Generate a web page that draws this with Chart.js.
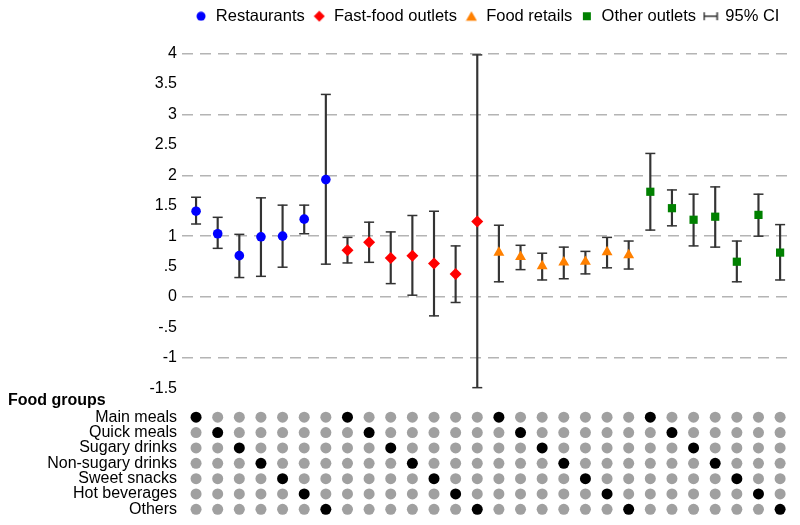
<!DOCTYPE html>
<html>
<head>
<meta charset="utf-8">
<script src="https://cdn.jsdelivr.net/npm/chart.js@4.4.1/dist/chart.umd.min.js"></script>
<style>
  html, body { margin: 0; padding: 0; background: #fff; }
  #wrap { position: relative; width: 800px; height: 525px; }
  #fg { position: absolute; left: 8px; top: 391px; font: bold 16px Arial, "Liberation Sans", sans-serif; color: #000; }
</style>
</head>
<body>
<div id="wrap">
  <canvas id="c" width="800" height="525"></canvas>
  <div id="fg">Food groups</div>
</div>
<script>
// ---- Data ----
const seriesNames = ['Restaurants', 'Fast-food outlets', 'Food retails', 'Other outlets'];

const restaurantsEst = [1.41, 1.04, 0.68, 0.99, 1.00, 1.28, 1.93];
const restaurantsLo  = [1.20, 0.80, 0.32, 0.34, 0.49, 1.04, 0.54];
const restaurantsHi  = [1.64, 1.31, 1.03, 1.63, 1.51, 1.51, 3.33];

const fastFoodEst = [0.77, 0.90, 0.64, 0.68, 0.55, 0.38, 1.24];
const fastFoodLo  = [0.56, 0.57, 0.22, 0.03, -0.31, -0.09, -1.49];
const fastFoodHi  = [0.98, 1.23, 1.07, 1.34, 1.41, 0.84, 3.98];

const foodRetailsEst = [0.73, 0.66, 0.51, 0.57, 0.58, 0.74, 0.69];
const foodRetailsLo  = [0.25, 0.45, 0.28, 0.30, 0.38, 0.48, 0.46];
const foodRetailsHi  = [1.18, 0.85, 0.72, 0.82, 0.75, 0.98, 0.92];

const otherEst = [1.73, 1.46, 1.27, 1.32, 0.58, 1.35, 0.73];
const otherLo  = [1.10, 1.17, 0.84, 0.82, 0.25, 1.00, 0.28];
const otherHi  = [2.36, 1.76, 1.69, 1.81, 0.92, 1.69, 1.19];

const foodGroups = ['Main meals', 'Quick meals', 'Sugary drinks', 'Non-sugary drinks', 'Sweet snacks', 'Hot beverages', 'Others'];
// food group highlighted in each of the 28 columns (index into foodGroups)
const columnGroup = [0,1,2,3,4,5,6, 0,1,2,3,4,5,6, 0,1,2,3,4,5,6, 0,1,2,3,4,5,6];

const yTickValues = [-1.5, -1, -0.5, 0, 0.5, 1, 1.5, 2, 2.5, 3, 3.5, 4];

// ---- Build datasets ----
const FONT = 'Arial, "Liberation Sans", sans-serif';
const colors = ['#0000ff', '#ff0000', '#ff8000', '#008000'];
const styles = ['circle', 'rectRot', 'triangle', 'rect'];
const radii = [4.8, 6, 6.3, 5.8];
const est = [restaurantsEst, fastFoodEst, foodRetailsEst, otherEst];
const lo = [restaurantsLo, fastFoodLo, foodRetailsLo, otherLo];
const hi = [restaurantsHi, fastFoodHi, foodRetailsHi, otherHi];

let pos = 1;
const markerSets = [], capPts = [], whisk = [];
est.forEach((arr, s) => {
  const pts = [];
  arr.forEach((v, i) => {
    const x = pos + i;
    pts.push({x: x, y: v});
    capPts.push({x: x, y: lo[s][i]}, {x: x, y: hi[s][i]});
    whisk.push({x: x, y: [lo[s][i], hi[s][i]]});
  });
  markerSets.push({
    type: 'scatter', label: seriesNames[s], data: pts, yAxisID: 'y',
    pointStyle: styles[s], pointRadius: radii[s], pointHoverRadius: radii[s],
    backgroundColor: colors[s], borderColor: colors[s], borderWidth: 0, clip: false
  });
  pos += arr.length;
});

const grayPts = [], blackPts = [];
columnGroup.forEach((g, i) => {
  foodGroups.forEach((name, r) => {
    (r === g ? blackPts : grayPts).push({x: i + 1, y: name});
  });
});

// legend icons
function icon(w, h, draw) {
  const cv = document.createElement('canvas');
  cv.width = w; cv.height = h;
  draw(cv.getContext('2d'), w, h);
  return cv;
}
const legendIcons = [
  icon(10, 10, (c) => { c.fillStyle = colors[0]; c.beginPath(); c.arc(5, 5, 4.5, 0, Math.PI * 2); c.fill(); }),
  icon(12, 12, (c) => { c.fillStyle = colors[1]; c.beginPath(); c.moveTo(6, 0.5); c.lineTo(11.5, 6); c.lineTo(6, 11.5); c.lineTo(0.5, 6); c.closePath(); c.fill(); }),
  icon(12, 12, (c) => { c.fillStyle = colors[2]; c.beginPath(); c.moveTo(6, 1); c.lineTo(11.5, 10.5); c.lineTo(0.5, 10.5); c.closePath(); c.fill(); }),
  icon(10, 10, (c) => { c.fillStyle = colors[3]; c.fillRect(1, 1, 8, 8); })
];
const ciIcon = icon(16, 10, (c) => {
  c.strokeStyle = '#333'; c.lineWidth = 1.5;
  c.beginPath();
  c.moveTo(1, 5); c.lineTo(15, 5);
  c.moveTo(1.5, 1); c.lineTo(1.5, 9);
  c.moveTo(14.5, 1); c.lineTo(14.5, 9);
  c.stroke();
});

const datasets = markerSets.concat([
  { type: 'scatter', label: 'caps', data: capPts, yAxisID: 'y', pointStyle: 'line',
    pointRadius: 5, pointHoverRadius: 5, borderColor: '#333', borderWidth: 1.5, clip: false },
  { type: 'bar', label: 'whiskers', data: whisk, yAxisID: 'y', barThickness: 1.5,
    backgroundColor: '#333', borderWidth: 0 },
  { type: 'scatter', label: 'grid-gray', data: grayPts, yAxisID: 'm', pointStyle: 'circle',
    pointRadius: 5.5, backgroundColor: '#a0a0a0', borderWidth: 0, clip: false },
  { type: 'scatter', label: 'grid-black', data: blackPts, yAxisID: 'm', pointStyle: 'circle',
    pointRadius: 5.5, backgroundColor: '#000000', borderWidth: 0, clip: false }
]);

const fixedLeft = (scale) => { scale.width = 182; scale.paddingTop = 0; scale.paddingBottom = 0; };

new Chart(document.getElementById('c'), {
  type: 'scatter',
  data: { datasets: datasets },
  options: {
    responsive: false,
    animation: false,
    events: [],
    layout: { padding: { top: 0, right: 8, bottom: 8, left: 0 } },
    plugins: {
      tooltip: { enabled: false },
      legend: {
        position: 'top',
        fullSize: false,
        align: 'center',
        onClick: null,
        labels: {
          usePointStyle: true,
          boxWidth: 13,
          boxHeight: 7,
          padding: 8,
          color: '#000',
          font: { family: FONT, size: 16.5 },
          generateLabels: () => markerSets.map((d, s) => ({
            text: d.label, fillStyle: colors[s], strokeStyle: colors[s], lineWidth: 0,
            pointStyle: legendIcons[s], hidden: false, datasetIndex: s, fontColor: '#000'
          })).concat([{ text: '95% CI', pointStyle: ciIcon, fillStyle: '#333',
            strokeStyle: '#333', lineWidth: 0, hidden: false, fontColor: '#000' }])
        }
      }
    },
    scales: {
      x: {
        type: 'linear', min: 0.35, max: 28.55, offset: false, display: false,
        grid: { display: false }
      },
      y: {
        type: 'linear', position: 'left', stack: 'v', stackWeight: 377, weight: 1,
        min: -1.85, max: 4.315,
        afterBuildTicks: (scale) => { scale.ticks = yTickValues.map(v => ({ value: v })); },
        afterFit: fixedLeft,
        border: { display: false, dash: [11, 7] },
        grid: {
          drawTicks: false, lineWidth: 1.5,
          color: (ctx) => (ctx.tick && Number.isInteger(ctx.tick.value)) ? '#b4b4b4' : 'rgba(0,0,0,0)'
        },
        ticks: {
          autoSkip: false, padding: 5, color: '#000', font: { family: FONT, size: 16 },
          callback: (v) => String(v).replace(/^(-?)0\./, '$1.')
        }
      },
      m: {
        type: 'category', labels: foodGroups, position: 'left', stack: 'v', stackWeight: 108, weight: 0,
        offset: true,
        afterFit: fixedLeft,
        border: { display: false },
        grid: { display: false, drawTicks: false },
        ticks: { padding: 5, color: '#000', font: { family: FONT, size: 16 }, autoSkip: false }
      }
    }
  }
});
</script>
</body>
</html>
